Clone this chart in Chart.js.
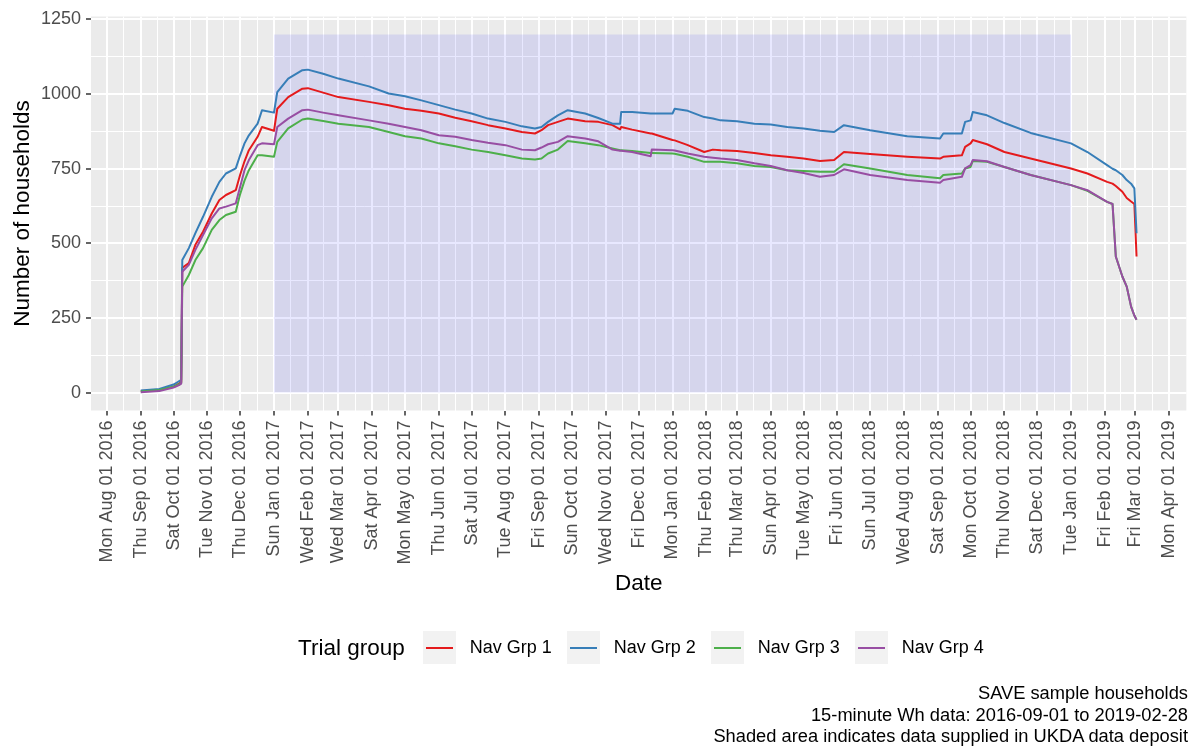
<!DOCTYPE html>
<html>
<head>
<meta charset="utf-8">
<title>SAVE households by trial group</title>
<script src="https://cdn.jsdelivr.net/npm/chart.js@4.4.1/dist/chart.umd.min.js"></script>
<style>
    body { margin: 0; background: #fff; font-family: 'Liberation Sans', Arial, sans-serif; }
    #wrap { position: relative; width: 1196px; height: 747px; }
    #households_chart { position: absolute; left: 0; top: 0; }
    #legend { position: absolute; left: 298px; top: 631px; height: 33px; display: flex; align-items: center; white-space: nowrap; }
    #legend .title { font-size: 22.5px; color: #000; margin-right: 18px; }
    #legend .key { width: 33px; height: 33px; background: #F2F2F2; position: relative; margin-right: 14px; }
    #legend .key span { position: absolute; left: 3px; right: 3px; top: 15.5px; height: 2px; }
    #legend .label { font-size: 18px; color: #000; margin-right: 15px; }
    #caption { position: absolute; right: 8px; top: 682px; text-align: right; font-size: 18.3px; line-height: 21.5px; color: #000; white-space: nowrap; }
</style>
</head>
<body>
<div id="wrap">
    <canvas id="households_chart" width="1196" height="747"></canvas>
    <div id="legend"></div>
    <div id="caption">SAVE sample households<br>15-minute Wh data: 2016-09-01 to 2019-02-28<br>Shaded area indicates data supplied in UKDA data deposit</div>
</div>
<script>
const dates = [
    '2016-09-01', '2016-09-18', '2016-10-01', '2016-10-06', '2016-10-08', '2016-10-09',
    '2016-10-15', '2016-10-21', '2016-10-28', '2016-11-05', '2016-11-12', '2016-11-18',
    '2016-11-27', '2016-12-01', '2016-12-05', '2016-12-09', '2016-12-17', '2016-12-21',
    '2017-01-01', '2017-01-04', '2017-01-14', '2017-01-27', '2017-02-01', '2017-02-15',
    '2017-03-01', '2017-03-29', '2017-04-16', '2017-05-01', '2017-05-16', '2017-06-01',
    '2017-06-16', '2017-07-01', '2017-07-16', '2017-08-01', '2017-08-16', '2017-08-28',
    '2017-09-03', '2017-09-09', '2017-09-18', '2017-09-27', '2017-10-13', '2017-10-25',
    '2017-11-07', '2017-11-14', '2017-11-15', '2017-11-25', '2017-12-12', '2017-12-13',
    '2018-01-01', '2018-01-03', '2018-01-15', '2018-01-30', '2018-02-07', '2018-02-14',
    '2018-03-01', '2018-03-17', '2018-04-01', '2018-04-16', '2018-05-01', '2018-05-16',
    '2018-05-29', '2018-06-07', '2018-07-01', '2018-08-04', '2018-09-03', '2018-09-06',
    '2018-09-23', '2018-09-26', '2018-10-01', '2018-10-03', '2018-10-16', '2018-11-01',
    '2018-11-25', '2019-01-01', '2019-01-16', '2019-02-03', '2019-02-08', '2019-02-11',
    '2019-02-17', '2019-02-21', '2019-02-25', '2019-02-28', '2019-03-02'
];
const nav_grp_1 = [
    5, 8, 20, 30, 35, 418,
    434, 495, 539, 600, 645, 662,
    678, 730, 775, 812, 857, 890,
    877, 951, 990, 1018, 1020, 1005,
    990, 974, 963, 951, 944, 935,
    921, 909, 896, 885, 873, 868,
    879, 896, 907, 918, 909, 907,
    896, 882, 890, 881, 868, 868,
    846, 845, 829, 806, 814, 812,
    809, 803, 795, 790, 784, 776,
    779, 806, 799, 790, 784, 790,
    795, 823, 835, 846, 832, 806,
    784, 751, 734, 706, 700, 692,
    673, 652, 640, 632, 456
];
const nav_grp_2 = [
    7, 12, 27, 38, 42, 444,
    484, 534, 589, 656, 706, 734,
    751, 795, 835, 862, 901, 946,
    938, 1007, 1052, 1080, 1082, 1068,
    1052, 1026, 1002, 993, 979, 963,
    948, 935, 918, 907, 892, 885,
    890, 907, 929, 946, 935, 920,
    901, 901, 940, 940, 935, 935,
    935, 951, 944, 923, 918, 912,
    909, 901, 898, 890, 885, 877,
    873, 896, 879, 859, 851, 868,
    868, 907, 912, 940, 929, 903,
    870, 835, 806, 762, 750, 745,
    729, 712, 700, 684, 534
];
const nav_grp_3 = [
    4, 9, 20, 28, 32, 355,
    394, 444, 484, 545, 578, 595,
    606, 665, 710, 745, 795, 795,
    790, 840, 885, 915, 918, 910,
    901, 890, 873, 859, 851, 835,
    825, 814, 806, 795, 784, 781,
    784, 801, 814, 843, 835, 829,
    818, 812, 812, 809, 803, 803,
    801, 800, 790, 773, 773, 773,
    768, 759, 756, 745, 742, 740,
    740, 765, 751, 729, 718, 729,
    734, 751, 756, 776, 773, 756,
    729, 695, 676, 639, 632, 456,
    389, 355, 288, 258, 244
];
const nav_grp_4 = [
    1, 5, 17, 25, 30, 405,
    428, 478, 528, 584, 617, 623,
    634, 690, 745, 779, 829, 835,
    832, 890, 918, 946, 948, 938,
    929, 912, 901, 890, 879, 862,
    857, 846, 837, 829, 814, 812,
    821, 832, 840, 859, 851, 842,
    814, 810, 810, 806, 792, 814,
    812, 811, 801, 790, 787, 784,
    779, 768, 759, 745, 736, 723,
    729, 748, 729, 712, 703, 712,
    723, 751, 762, 779, 775, 756,
    729, 695, 678, 639, 632, 456,
    389, 355, 288, 258, 244
];
const series_names = ['Nav Grp 1', 'Nav Grp 2', 'Nav Grp 3', 'Nav Grp 4'];
const series_colours = ['#E41A1C', '#377EB8', '#4DAF4A', '#984EA3'];

// shaded period = data in the UKDA deposit
const shade_start = '2017-01-01';
const shade_end = '2019-01-01';
const shade_top = 1200;

const y_ticks = [0, 250, 500, 750, 1000, 1250];
const month_ticks = [
    '2016-08-01', '2016-09-01', '2016-10-01', '2016-11-01', '2016-12-01',
    '2017-01-01', '2017-02-01', '2017-03-01', '2017-04-01', '2017-05-01', '2017-06-01',
    '2017-07-01', '2017-08-01', '2017-09-01', '2017-10-01', '2017-11-01', '2017-12-01',
    '2018-01-01', '2018-02-01', '2018-03-01', '2018-04-01', '2018-05-01', '2018-06-01',
    '2018-07-01', '2018-08-01', '2018-09-01', '2018-10-01', '2018-11-01', '2018-12-01',
    '2019-01-01', '2019-02-01', '2019-03-01', '2019-04-01'
];

const day_names = ['Sun', 'Mon', 'Tue', 'Wed', 'Thu', 'Fri', 'Sat'];
const month_names = ['Jan', 'Feb', 'Mar', 'Apr', 'May', 'Jun', 'Jul', 'Aug', 'Sep', 'Oct', 'Nov', 'Dec'];

function toMs(s) {
    const p = s.split('-');
    return Date.UTC(+p[0], +p[1] - 1, +p[2]);
}
function dateLabel(ms) {
    const d = new Date(ms);
    const dd = String(d.getUTCDate()).padStart(2, '0');
    return day_names[d.getUTCDay()] + ' ' + month_names[d.getUTCMonth()] + ' ' + dd + ' ' + d.getUTCFullYear();
}

const x_major = month_ticks.map(toMs);
const x_minor = [];
for (let i = 1; i < x_major.length; i++) x_minor.push((x_major[i - 1] + x_major[i]) / 2);
const y_minor = [];
for (let i = 1; i < y_ticks.length; i++) y_minor.push((y_ticks[i - 1] + y_ticks[i]) / 2);

// ggplot style 5% expansion
const x_first = toMs(dates[0]);
const x_last = toMs(dates[dates.length - 1]);
const x_pad = (x_last - x_first) * 0.05;
const y_pad = shade_top * 0.05;

const series = [nav_grp_1, nav_grp_2, nav_grp_3, nav_grp_4];
const datasets = series.map((values, i) => ({
    label: series_names[i],
    data: values.map((v, j) => ({ x: toMs(dates[j]), y: v })),
    borderColor: series_colours[i],
    borderWidth: 2,
    borderJoinStyle: 'round',
    pointRadius: 0,
    tension: 0,
    fill: false,
    order: series.length - i
}));
datasets.push({
    label: 'UKDA deposit',
    data: [{ x: toMs(shade_start), y: shade_top }, { x: toMs(shade_end), y: shade_top }],
    borderWidth: 0,
    pointRadius: 0,
    fill: 'origin',
    backgroundColor: 'rgba(0, 0, 255, 0.09)',
    order: 10
});

const panel_background = {
    id: 'panel_background',
    beforeDraw(chart) {
        const { ctx, chartArea: a } = chart;
        ctx.save();
        ctx.fillStyle = '#EBEBEB';
        ctx.fillRect(a.left, a.top, a.width, a.height);
        ctx.restore();
    }
};

const xIsMajor = v => x_major.indexOf(v) !== -1;
const yIsMajor = v => y_ticks.indexOf(v) !== -1;

const ctx = document.getElementById('households_chart').getContext('2d');
const households_chart = new Chart(ctx, {
    type: 'line',
    data: { datasets: datasets },
    options: {
        responsive: false,
        animation: false,
        events: [],
        layout: { padding: { top: 16.5, right: 6, bottom: 149.5, left: 0 } },
        plugins: {
            legend: { display: false },
            tooltip: { enabled: false }
        },
        scales: {
            x: {
                type: 'linear',
                min: x_first - x_pad,
                max: x_last + x_pad,
                afterBuildTicks: scale => {
                    scale.ticks = x_major.concat(x_minor).sort((a, b) => a - b).map(v => ({ value: v }));
                },
                afterFit: scale => { scale.height = 187; },
                border: { display: false },
                grid: {
                    color: '#FFFFFF',
                    lineWidth: c => xIsMajor(c.tick.value) ? 2 : 1,
                    tickColor: c => xIsMajor(c.tick.value) ? '#333333' : 'rgba(0,0,0,0)',
                    tickWidth: 1.5,
                    tickLength: 5
                },
                ticks: {
                    autoSkip: false,
                    minRotation: 90,
                    maxRotation: 90,
                    padding: 5,
                    color: '#4D4D4D',
                    font: { family: 'Liberation Sans', size: 18 },
                    callback: v => xIsMajor(v) ? dateLabel(v) : ''
                },
                title: {
                    display: true,
                    text: 'Date',
                    color: '#000',
                    padding: { top: 0, bottom: 0 },
                    font: { family: 'Liberation Sans', size: 22.5, lineHeight: 1.2 }
                }
            },
            y: {
                type: 'linear',
                min: 0 - y_pad,
                max: shade_top + y_pad,
                afterBuildTicks: scale => {
                    scale.ticks = y_ticks.concat(y_minor).sort((a, b) => a - b).map(v => ({ value: v }));
                },
                afterFit: scale => { scale.width = 91; },
                border: { display: false },
                grid: {
                    color: '#FFFFFF',
                    lineWidth: c => yIsMajor(c.tick.value) ? 2 : 1,
                    tickColor: c => yIsMajor(c.tick.value) ? '#333333' : 'rgba(0,0,0,0)',
                    tickWidth: 1.5,
                    tickLength: 5
                },
                ticks: {
                    autoSkip: false,
                    padding: 5,
                    color: '#4D4D4D',
                    font: { family: 'Liberation Sans', size: 18 },
                    callback: v => yIsMajor(v) ? String(v) : ''
                },
                title: {
                    display: true,
                    text: 'Number of households',
                    color: '#000',
                    padding: { top: 9, bottom: 0 },
                    font: { family: 'Liberation Sans', size: 22.5, lineHeight: 1.2 }
                }
            }
        }
    },
    plugins: [panel_background]
});

const legend_el = document.getElementById('legend');
legend_el.innerHTML = '<span class="title">Trial group</span>';
series_names.forEach((name, i) => {
    legend_el.innerHTML += '<span class="key"><span style="background:' + series_colours[i] + '"></span></span>' +
        '<span class="label">' + name + '</span>';
});
</script>
</body>
</html>
